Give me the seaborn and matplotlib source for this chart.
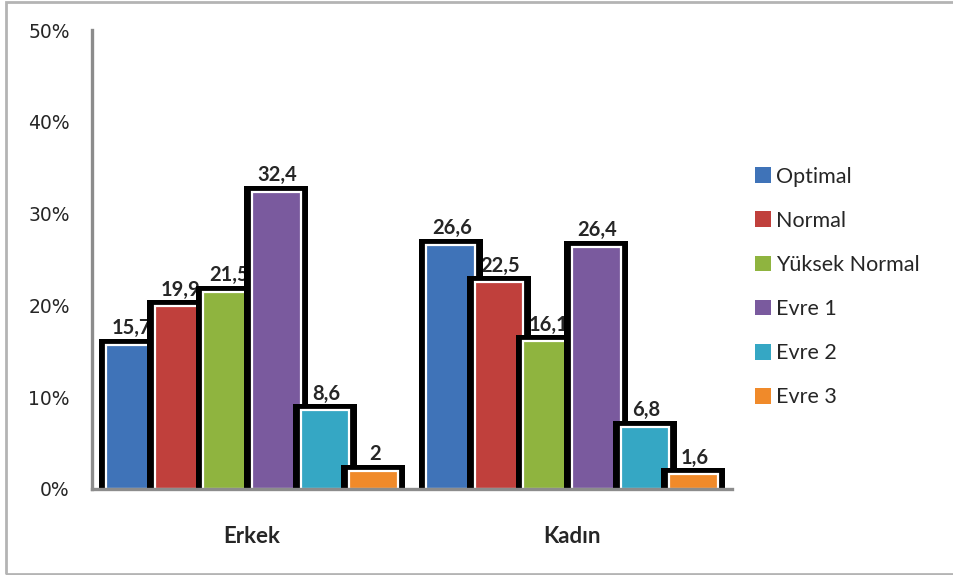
import pandas as pd
import matplotlib.pyplot as plt
import matplotlib.patches as mpatches
import seaborn as sns

# values (% of group)
groups = ['Erkek', 'Kadın']
stages = ['Optimal', 'Normal', 'Yüksek Normal', 'Evre 1', 'Evre 2', 'Evre 3']
erkek = [15.7, 19.9, 21.5, 32.4, 8.6, 2]
kadin = [26.6, 22.5, 16.1, 26.4, 6.8, 1.6]
yticks = [0, 10, 20, 30, 40, 50]

colors = ['#3f73b8', '#c0403c', '#8fb43f', '#7a5a9e', '#35a7c4', '#f08a2a']

df = pd.DataFrame({
    'Grup': groups * len(stages),
    'Evre': [s for s in stages for _ in groups],
    'Deger': [v for pair in zip(erkek, kadin) for v in pair],
})

sns.set_style('white')
plt.rcParams['font.family'] = ['Lato', 'DejaVu Sans']

fig = plt.figure(figsize=(9.54, 5.75), dpi=100)
ax = fig.add_axes([0.0964, 0.1496, 0.6709, 0.7982])

group_w = 0.91
sns.barplot(data=df, x='Grup', y='Deger', hue='Evre', order=groups,
            hue_order=stages, palette=colors, width=group_w, dodge=True,
            edgecolor='white', linewidth=1.6, saturation=1, ax=ax,
            legend=False)

# black "shadow" block behind each bar, stacked left to right
pad_x = 0.024
pad_y = 0.65
for j, cont in enumerate(ax.containers):
    for p in cont.patches:
        p.set_zorder(3 + 2 * j)
        x0, w, h = p.get_x(), p.get_width(), p.get_height()
        ax.add_patch(mpatches.Rectangle((x0 - pad_x, 0), w + 2 * pad_x, h + pad_y,
                                        facecolor='black', edgecolor='none',
                                        zorder=2 + 2 * j))
        # value label, sits under all bars
        txt = f'{h:g}'.replace('.', ',')
        ax.text(x0 + w / 2 + 0.004, h + 0.7, txt, ha='center', va='bottom',
                fontsize=14.5, fontweight='bold', zorder=1)

ax.set_xlim(-0.5, 1.5)
ax.set_ylim(0, 50)
ax.set_yticks(yticks)
ax.set_yticklabels([f'{t}%' for t in yticks], fontsize=13.5,
                   family=['DejaVu Sans'])
ax.set_xticks([-0.5, 0.5, 1.5])
ax.set_xticklabels([])
ax.set_xticks([0, 1], minor=True)
ax.set_xticklabels(groups, minor=True, fontsize=16, fontweight='bold')
ax.tick_params(axis='x', which='minor', length=0, pad=27)
ax.tick_params(axis='x', which='major', length=6, width=2.2, color='#8c8c8c',
               direction='out')
ax.tick_params(axis='y', length=6, width=2.2, color='#8c8c8c', direction='out',
               pad=10)
ax.set_xlabel('')
ax.set_ylabel('')

for side in ['top', 'right']:
    ax.spines[side].set_visible(False)
for side in ['left', 'bottom']:
    ax.spines[side].set_color('#8c8c8c')
    ax.spines[side].set_linewidth(2.4)
    ax.spines[side].set_zorder(20)

handles = [mpatches.Patch(facecolor=c, edgecolor='none') for c in colors]
fig.legend(handles, stages, loc='upper left', bbox_to_anchor=(0.782, 0.725),
           frameon=False, fontsize=15.5, labelspacing=1.12, handlelength=0.75,
           handleheight=0.75, handletextpad=0.25, borderaxespad=0)

# outer chart frame
fig.add_artist(mpatches.Rectangle((0.0063, 0.002), 1.2, 0.995,
                                  transform=fig.transFigure, fill=False,
                                  edgecolor='#b4b4b4', linewidth=2))

fig.savefig('out.png', dpi=100)
